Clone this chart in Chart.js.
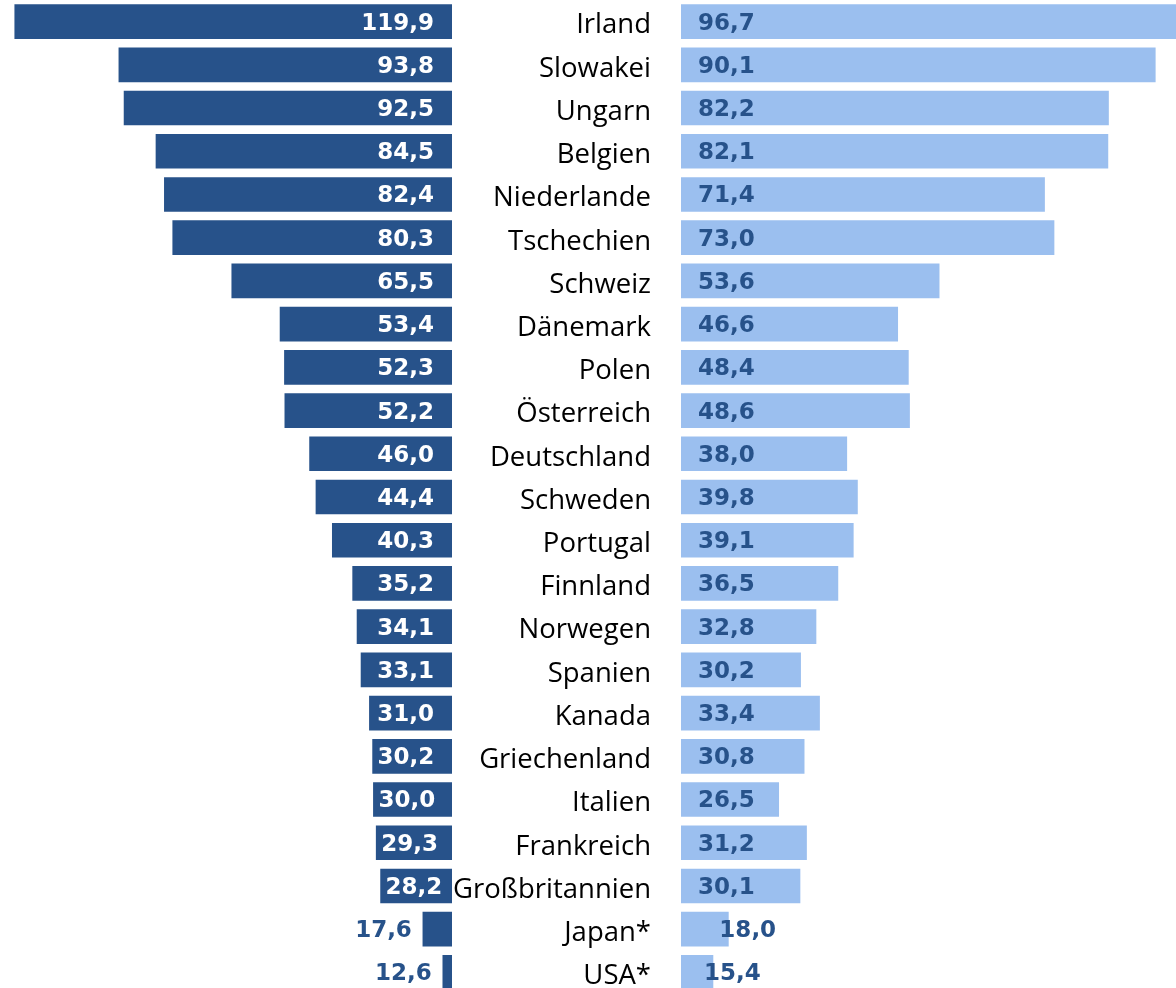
<!DOCTYPE html>
<html>
<head>
<meta charset="utf-8">
<script src="https://cdn.jsdelivr.net/npm/chart.js@4"></script>
<style>
  html, body { margin: 0; padding: 0; background: #fff; overflow: hidden; }
  #wrap { position: relative; width: 1176px; height: 988px; }
  canvas { position: absolute; top: 0; }
</style>
</head>
<body>
<div id="wrap">
  <canvas id="left" width="452" height="994" style="left:0"></canvas>
  <canvas id="right" width="724" height="994" style="left:452px"></canvas>
</div>
<script>
const countries = ["Irland", "Slowakei", "Ungarn", "Belgien", "Niederlande", "Tschechien", "Schweiz",
  "Dänemark", "Polen", "Österreich", "Deutschland", "Schweden", "Portugal", "Finnland", "Norwegen",
  "Spanien", "Kanada", "Griechenland", "Italien", "Frankreich", "Großbritannien", "Japan*", "USA*"]
const leftValues = [119.9, 93.8, 92.5, 84.5, 82.4, 80.3, 65.5, 53.4, 52.3, 52.2, 46.0, 44.4, 40.3,
  35.2, 34.1, 33.1, 31.0, 30.2, 30.0, 29.3, 28.2, 17.6, 12.6]
const rightValues = [96.7, 90.1, 82.2, 82.1, 71.4, 73.0, 53.6, 46.6, 48.4, 48.6, 38.0, 39.8, 39.1,
  36.5, 32.8, 30.2, 33.4, 30.8, 26.5, 31.2, 30.1, 18.0, 15.4]

const darkBlue = "#27528a"
const lightBlue = "#9bbfef"
const valueFont = "bold 23px 'DejaVu Sans'"

const fmt = v => v.toFixed(1).replace(".", ",")

// value labels for the left (dark) bars
const leftLabels = {
  id: "leftLabels",
  afterDatasetsDraw(chart) {
    const ctx = chart.ctx
    const meta = chart.getDatasetMeta(0)
    const barRight = chart.chartArea.right
    ctx.save()
    ctx.font = valueFont
    ctx.textBaseline = "middle"
    ctx.textAlign = "right"
    meta.data.forEach((bar, i) => {
      const txt = fmt(leftValues[i])
      const w = ctx.measureText(txt).width
      const barLeft = bar.x
      if (barRight - barLeft < w + 12) {
        ctx.fillStyle = darkBlue
        ctx.fillText(txt, barLeft - 11, bar.y + 2)
      } else {
        let r = barRight - 18
        if (r - w < barLeft + 5) r = barLeft + 5 + w
        ctx.fillStyle = "#fff"
        ctx.fillText(txt, r, bar.y + 2)
      }
    })
    ctx.restore()
  }
}

// value labels for the right (light) bars
const rightLabels = {
  id: "rightLabels",
  afterDatasetsDraw(chart) {
    const ctx = chart.ctx
    const meta = chart.getDatasetMeta(0)
    const barLeft = chart.chartArea.left
    ctx.save()
    ctx.font = valueFont
    ctx.textBaseline = "middle"
    ctx.textAlign = "left"
    ctx.fillStyle = darkBlue
    meta.data.forEach((bar, i) => {
      const txt = fmt(rightValues[i])
      const w = ctx.measureText(txt).width
      let l = barLeft + 17
      if (bar.x - barLeft < w + 20) l = bar.x - 9
      ctx.fillText(txt, l, bar.y + 2)
    })
    ctx.restore()
  }
}

const commonOpts = {
  responsive: false,
  animation: false,
  indexAxis: "y",
  layout: { padding: 0 },
  plugins: { legend: { display: false }, tooltip: { enabled: false } }
}

new Chart(document.getElementById("left"), {
  type: "bar",
  data: {
    labels: countries,
    datasets: [{ data: leftValues, backgroundColor: darkBlue, barThickness: 34 }]
  },
  options: {
    ...commonOpts,
    scales: {
      x: { reverse: true, min: 10.3, max: 123.6, display: false },
      y: { display: false }
    }
  },
  plugins: [leftLabels]
})

new Chart(document.getElementById("right"), {
  type: "bar",
  data: {
    labels: countries,
    datasets: [{ data: rightValues, backgroundColor: lightBlue, barThickness: 34 }]
  },
  options: {
    ...commonOpts,
    scales: {
      x: { min: 10, max: 93.6, display: false },
      y: {
        grid: { display: false, drawTicks: false },
        border: { display: false },
        ticks: { padding: 30, labelOffset: 4, color: "#000", font: { family: "'Open Sans'", size: 27.5 } },
        afterFit(scale) {
          scale.width = 229
          scale.paddingTop = 0
          scale.paddingBottom = 0
        }
      }
    }
  },
  plugins: [rightLabels]
})
</script>
</body>
</html>
